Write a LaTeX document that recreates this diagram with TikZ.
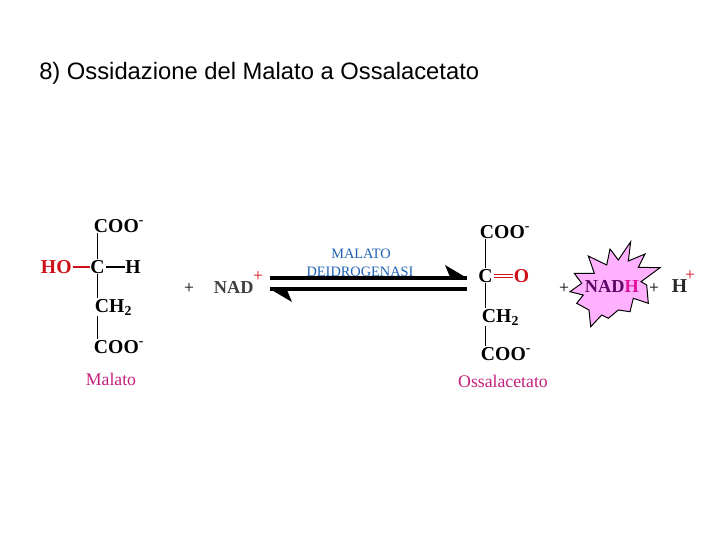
\documentclass[tikz,border=0pt]{standalone}
\usepackage{fontspec}
\usepackage{xcolor}
\setmainfont{Liberation Serif}
\newfontfamily\titlefont{Liberation Sans}
\usetikzlibrary{calc}
\definecolor{labelred}{HTML}{C41E7C}
\definecolor{enzblue}{HTML}{1F62B5}
\definecolor{oxred}{HTML}{D01018}
\definecolor{starfill}{HTML}{FFB0FF}
\definecolor{nadpurple}{HTML}{5A0A66}
\definecolor{nadpink}{HTML}{E0109A}
\tikzset{
  chem/.style={anchor=base west,inner sep=0.5pt,font=\fontsize{14}{16}\selectfont\bfseries},
  nadtext/.style={anchor=base west,inner sep=0.5pt,font=\fontsize{13}{15}\selectfont\bfseries},
  plain/.style={anchor=base,inner sep=0pt,font=\fontsize{12.5}{14}\selectfont},
  supplus/.style={anchor=base,inner sep=0pt,text=oxred,font=\fontsize{12.5}{14}\selectfont},
  name label/.style={anchor=base,inner sep=0pt,text=labelred,font=\fontsize{12.6}{14}\selectfont},
  enzyme/.style={anchor=base,inner sep=0pt,text=enzblue,font=\fontsize{10.2}{12}\selectfont},
  bond/.style={line width=0.9pt},
  thickbar/.style={line width=3.2pt}
}
\begin{document}
\begin{tikzpicture}[x=0.025cm,y=-0.025cm]
\useasboundingbox (0,0) rectangle (720,540);

% Title
\node[anchor=base west,inner sep=0pt,font=\fontsize{16.9}{19}\selectfont\titlefont] (title) at (39,79) {8) Ossidazione del Malato a Ossalacetato};

% Malate
\node[chem] (cooa) at (93,232) {COO\textsuperscript{-}};
\node[chem,text=oxred] (hoa) at (40,273) {HO};
\node[chem] (ca) at (89.5,273) {C};
\node[chem] (ha) at (124.5,273) {H};
\node[chem] (cha) at (94,312) {CH\textsubscript{2}};
\node[chem] (coob) at (93,353) {COO\textsuperscript{-}};
\node[name label] (malato) at (111,385) {Malato};
\draw[bond] (ca.north) -- (ca.north |- cooa.south);
\draw[bond] (ca.south) -- (ca.south |- cha.north);
\draw[bond] (ca.south |- cha.south) -- (ca.south |- coob.north);
\draw[bond,oxred,line width=1.3pt] (hoa.east |- ca.center) -- (ca.west);
\draw[bond,line width=1.3pt] (ca.east) -- (ha.west |- ca.center);

% NAD+
\node[plain] (plusa) at (189,293) {+};
\node[nadtext,text=black!75] (nad) at (213,293) {NAD};
\node[supplus] (nadsup) at (258,281) {+};

% Enzyme
\node[enzyme] (malatoenz) at (361,258) {MALATO};
\node[enzyme] (deidro) at (360,276) {DEIDROGENASI};

% Double arrow
\coordinate (fwda) at (270,278);
\coordinate (fwdb) at (467,278);
\coordinate (reva) at (467,289);
\coordinate (revb) at (270,289);
\draw[thickbar] (fwda) -- (fwdb);
\draw[thickbar] (reva) -- (revb);
\fill (fwdb) -- ++(-22,-13) -- ++(5,12) -- cycle;
\fill (revb) -- ++(22,13) -- ++(-5,-12) -- cycle;

% Oxaloacetate
\node[chem] (cooc) at (479,238) {COO\textsuperscript{-}};
\node[chem] (cb) at (477.5,282) {C};
\node[chem,text=oxred] (ob) at (513,282) {O};
\node[chem] (chb) at (481,322) {CH\textsubscript{2}};
\node[chem] (cood) at (480,360) {COO\textsuperscript{-}};
\node[name label] (ossal) at (503,387) {Ossalacetato};
\draw[bond] (cb.north) -- (cb.north |- cooc.south);
\draw[bond] (cb.south) -- (cb.south |- chb.north);
\draw[bond] (cb.south |- chb.south) -- (cb.south |- cood.north);
\draw[oxred,line width=0.7pt,double,double distance=1.4pt] (cb.east) -- (ob.west);

% NADH star
\draw[fill=starfill,line width=0.7pt] (630.7,241.7) -- (628.3,261) -- (645,254) -- (638.3,267.3)
  -- (660,267.7) -- (641,281.7) -- (646.7,285) -- (648.3,303.3) -- (633.3,298.3) -- (630,311.7)
  -- (618.3,310) -- (608.3,318.3) -- (601.7,315) -- (590.7,326.7) -- (589,310) -- (576.7,303.3)
  -- (583.3,295) -- (570,291.7) -- (581.7,283.3) -- (574.3,273.3) -- (594.3,273.3) -- (588.3,256)
  -- (606.7,265) -- (610,249) -- (618.3,260) -- cycle;
\node[plain] (plusb) at (564,293) {+};
\node[nadtext,text=nadpurple] (nadh) at (584,292) {NAD\textcolor{nadpink}{H}};
\node[plain] (plusc) at (654,293) {+};
\node[chem,text=black!85] (hplus) at (671,292) {H};
\node[supplus] (hsup) at (690,280) {+};
\end{tikzpicture}
\end{document}
